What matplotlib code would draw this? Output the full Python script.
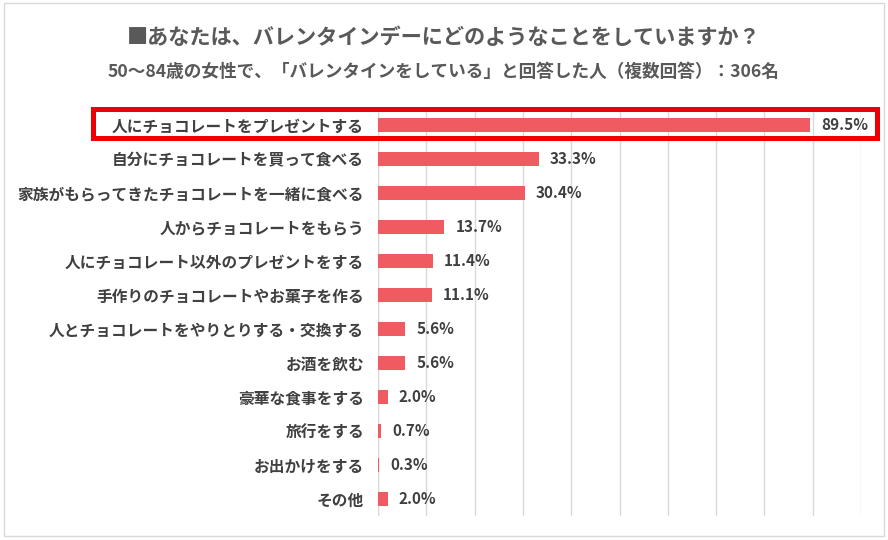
import matplotlib.pyplot as plt
from matplotlib.patches import Rectangle

plt.rcParams['font.family'] = ['Noto Sans CJK JP', 'DejaVu Sans']

categories = ['人にチョコレートをプレゼントする',
              '自分にチョコレートを買って食べる',
              '家族がもらってきたチョコレートを一緒に食べる',
              '人からチョコレートをもらう',
              '人にチョコレート以外のプレゼントをする',
              '手作りのチョコレートやお菓子を作る',
              '人とチョコレートをやりとりする・交換する',
              'お酒を飲む',
              '豪華な食事をする',
              '旅行をする',
              'お出かけをする',
              'その他']
values = [89.5, 33.3, 30.4, 13.7, 11.4, 11.1, 5.6, 5.6, 2.0, 0.7, 0.3, 2.0]

title = '■あなたは、バレンタインデーにどのようなことをしていますか？'
subtitle = '50～84歳の女性で、「バレンタインをしている」と回答した人（複数回答）：306名'

bar_color = '#EF5B60'
text_color = '#404040'

fig = plt.figure(figsize=(8.88, 5.4), dpi=100)
ax = fig.add_axes([378 / 888, 1 - 516 / 540, 483 / 888, 408 / 540])

y = list(range(len(categories)))
ax.barh(y, values, height=0.4, color=bar_color, zorder=3)
ax.set_xlim(0, 100)
ax.set_ylim(len(categories) - 0.5, -0.5)
ax.set_xticks(range(0, 101, 10))
ax.set_xticklabels([])
ax.tick_params(axis='x', length=0)
ax.tick_params(axis='y', length=0, pad=10)
ax.grid(axis='x', color='#D9D9D9', linewidth=1)
ax.set_axisbelow(True)
for s in ax.spines.values():
    s.set_visible(False)
ax.axvline(0, color='#D9D9D9', linewidth=1, zorder=1)

ax.set_yticks(y)
ax.set_yticklabels(categories, fontsize=11.3, fontweight='bold', color=text_color)

for i, v in enumerate(values):
    ax.text(v + 2.3, i, f'{v:.1f}%', va='center', ha='left', fontsize=11,
            fontweight='bold', color=text_color)

fig.text(0.5, 1 - 38 / 540, title, ha='center', va='center', fontsize=15.25,
         fontweight='bold', color='#595959')
fig.text(0.5, 1 - 72 / 540, subtitle, ha='center', va='center', fontsize=12.7,
         fontweight='bold', color='#595959')

# highlight box around the first row
fig.patches.append(Rectangle((93 / 888, 1 - 138 / 540), 784 / 888, 29 / 540,
                             transform=fig.transFigure, fill=False,
                             edgecolor='#EE0000', linewidth=3.6))
# outer frame
fig.patches.append(Rectangle((4 / 888, 4 / 540), 880 / 888, 533 / 540,
                             transform=fig.transFigure, fill=False,
                             edgecolor='#D9D9D9', linewidth=1))

fig.savefig('out.png', dpi=100)
